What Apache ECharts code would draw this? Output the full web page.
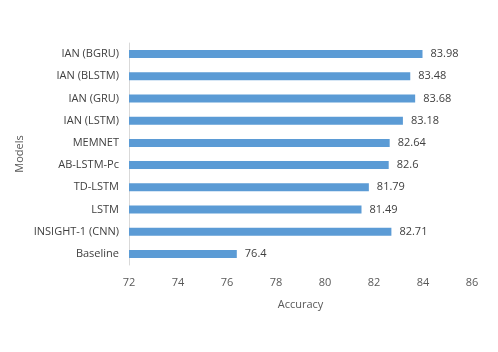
<!DOCTYPE html>
<html>
<head>
<meta charset="utf-8">
<script src="https://cdn.jsdelivr.net/npm/echarts@6/dist/echarts.min.js"></script>
<style>
html, body { margin: 0; padding: 0; background: #fff; }
#chart { width: 498px; height: 352px; }
</style>
</head>
<body>
<div id="chart"></div>
<script>
// bottom to top, as drawn on the category axis
const models = ['Baseline', 'INSIGHT-1 (CNN)', 'LSTM', 'TD-LSTM', 'AB-LSTM-Pc', 'MEMNET', 'IAN (LSTM)', 'IAN (GRU)', 'IAN (BLSTM)', 'IAN (BGRU)']
const accuracy = [76.4, 82.71, 81.49, 81.79, 82.6, 82.64, 83.18, 83.68, 83.48, 83.98]

const font = 'Open Sans'
const textColor = '#595959'

const myChart = echarts.init(document.getElementById('chart'))

let option = {
  animation: false,
  grid: { left: 129, right: 26, top: 43, bottom: 87 },
  xAxis: {
    type: 'value',
    min: 72,
    max: 86,
    interval: 2,
    name: 'Accuracy',
    nameLocation: 'middle',
    nameGap: 34,
    nameTextStyle: { color: textColor, fontFamily: font, fontSize: 11 },
    axisLine: { show: false },
    axisTick: { show: false },
    splitLine: { show: false },
    axisLabel: { color: textColor, fontFamily: font, fontSize: 11, margin: 12 }
  },
  yAxis: {
    type: 'category',
    data: models,
    name: 'Models',
    nameLocation: 'middle',
    nameGap: 104,
    nameMoveOverlap: false,
    nameTextStyle: { color: textColor, fontFamily: font, fontSize: 11 },
    axisLine: { show: true, lineStyle: { color: '#d9d9d9', width: 1 } },
    axisTick: { show: false },
    axisLabel: { color: '#404040', fontFamily: font, fontSize: 11, margin: 10 }
  },
  series: [
    {
      type: 'bar',
      data: accuracy,
      barWidth: 8,
      itemStyle: { color: '#5b9bd5' },
      label: {
        show: true,
        position: 'right',
        distance: 8,
        color: '#404040',
        fontFamily: font,
        fontSize: 11
      }
    }
  ]
}

myChart.setOption(option)
</script>
</body>
</html>
